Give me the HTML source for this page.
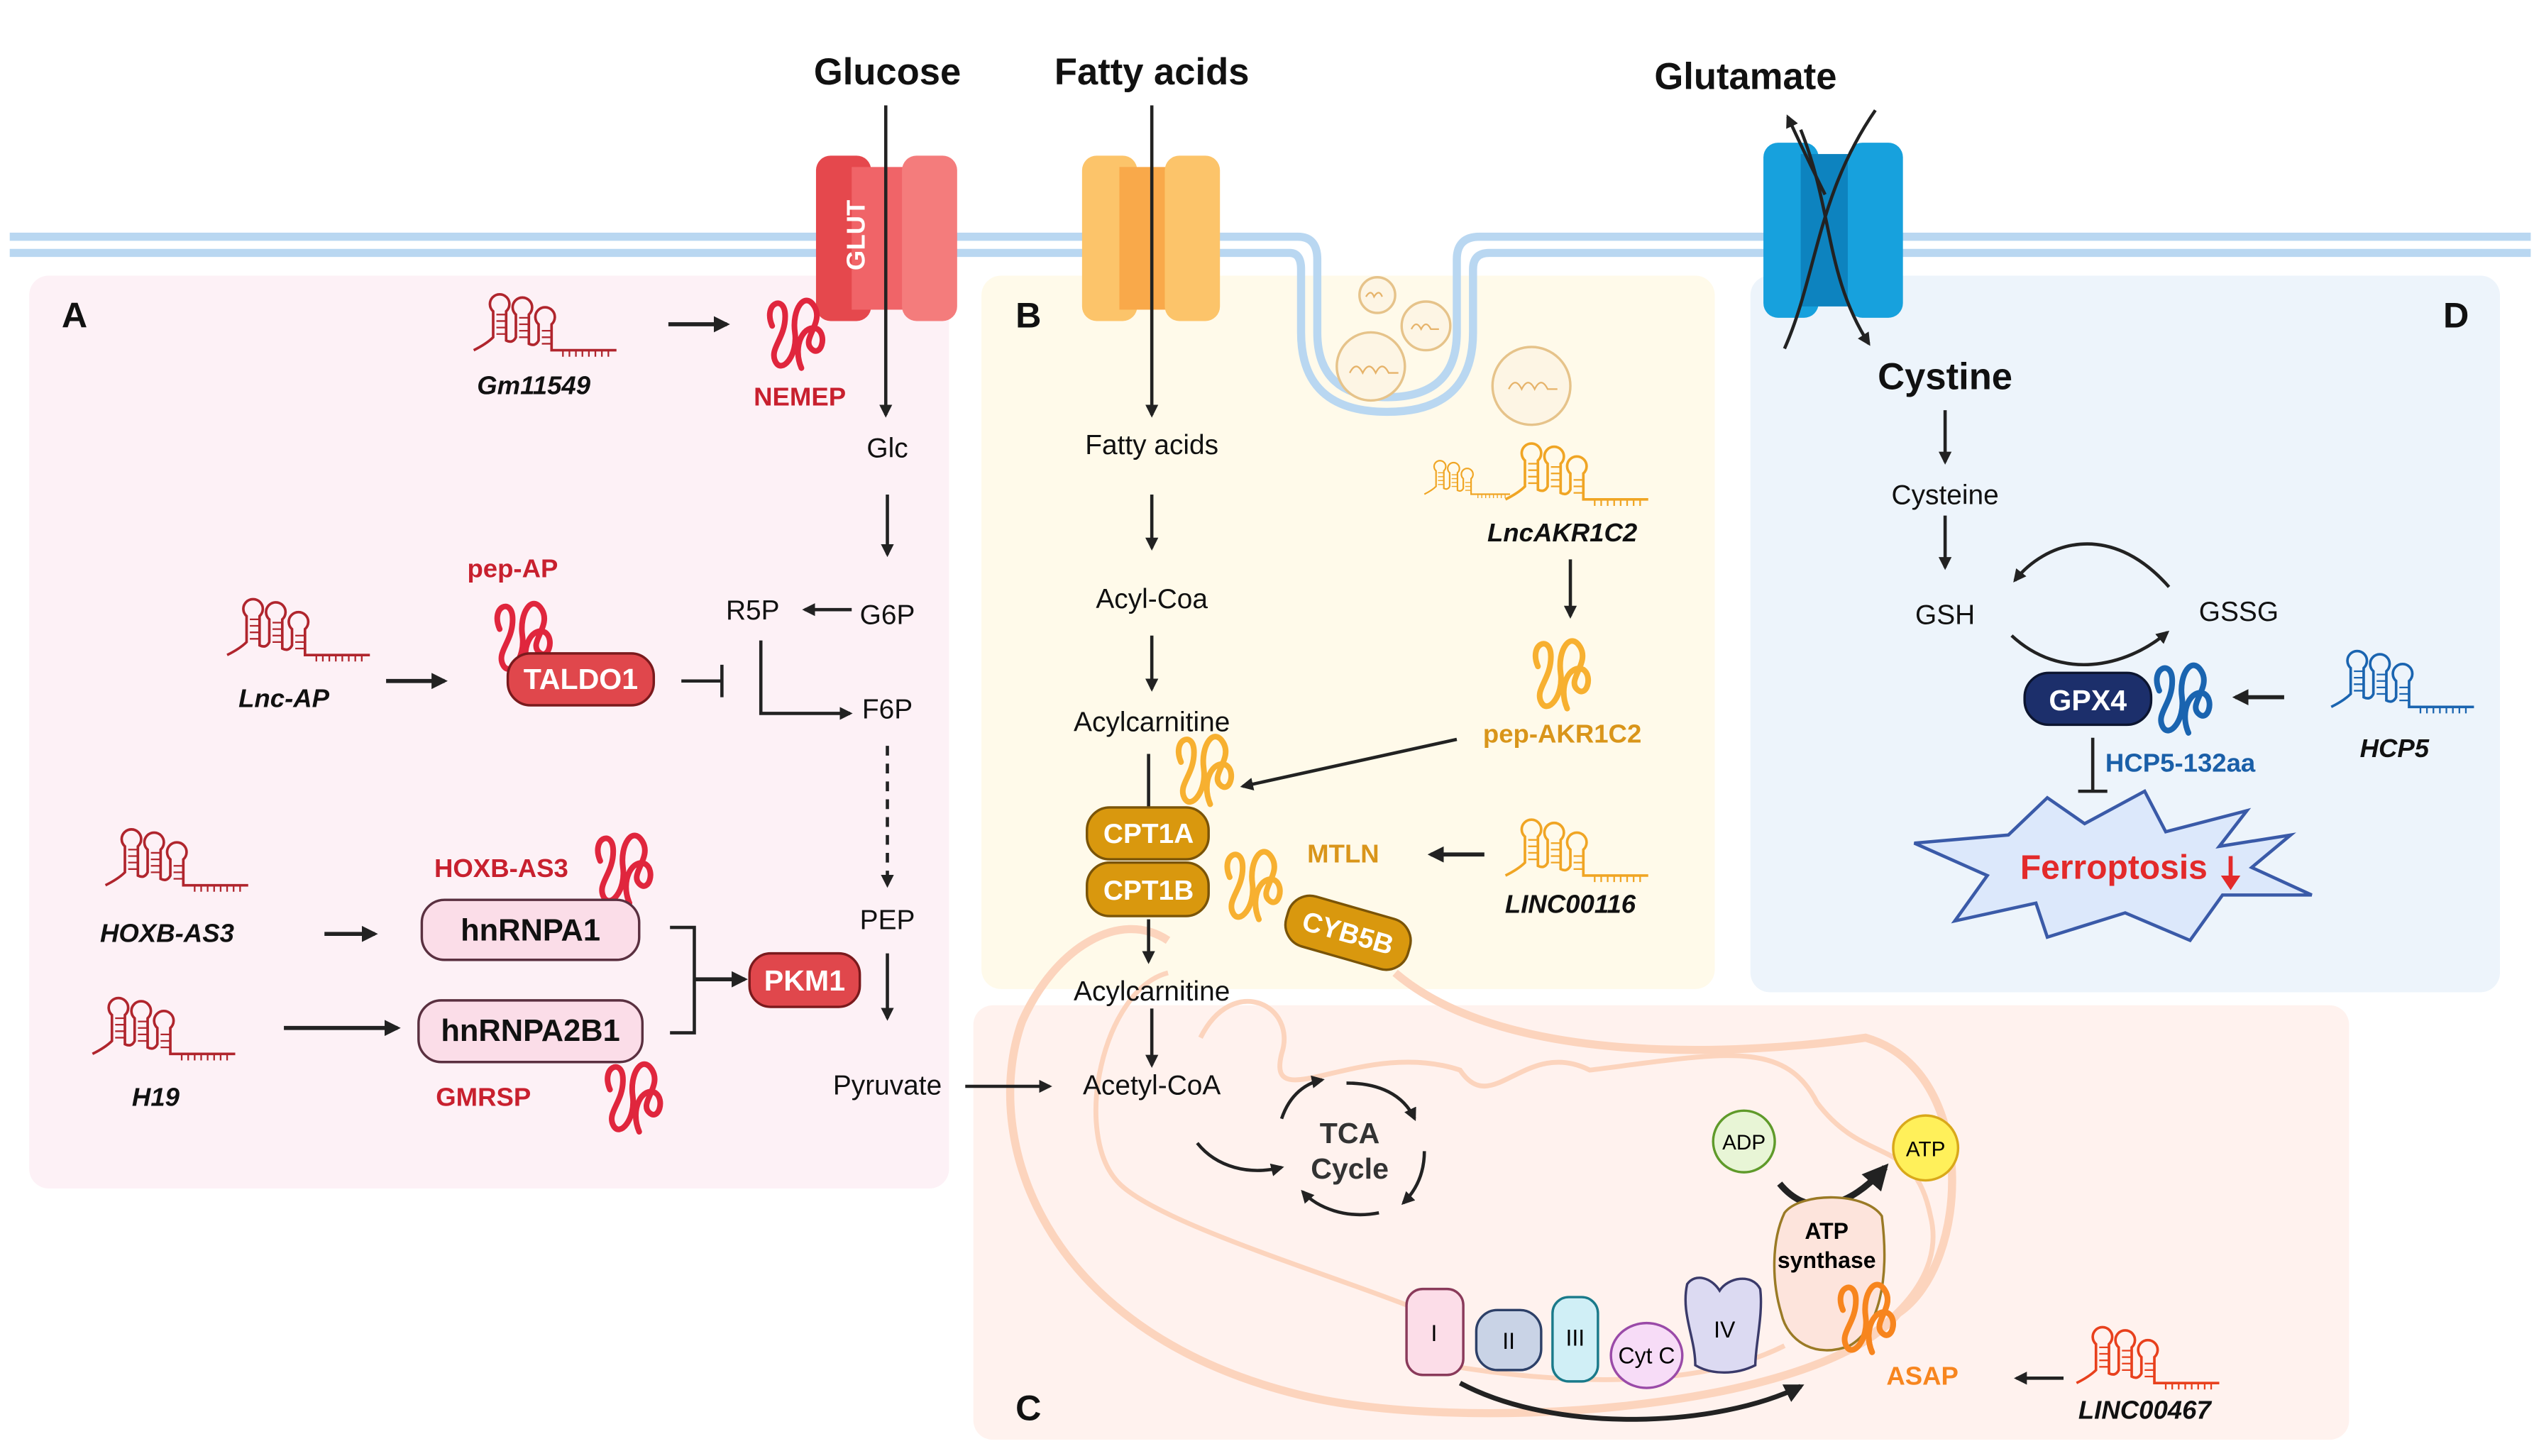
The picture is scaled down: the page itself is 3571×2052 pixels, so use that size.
<!DOCTYPE html>
<html><head><meta charset="utf-8"><style>html,body{margin:0;padding:0;background:#fff}svg{display:block}text{font-family:"Liberation Sans",sans-serif}</style></head>
<body>
<svg width="3571" height="2052" viewBox="0 0 1562 898" preserveAspectRatio="none" xmlns="http://www.w3.org/2000/svg">
<defs>
<marker id="ah" viewBox="0 0 10 10" refX="8" refY="5" markerWidth="4" markerHeight="4" orient="auto"><path d="M0,0 L10,5 L0,10 z" fill="#222"/></marker>
<g id="rna" fill="none" stroke="currentColor" stroke-width="1.6">
<path d="M0,38 Q8,34 12,30 L12,14 A6,6 0 1 1 20,14 L20,32 Q24,34 26,30 L26,16 A6,6 0 1 1 34,16 L34,34 Q38,36 40,32 L40,22 A6,6 0 1 1 48,22 L48,38 L88,38"/>
<path d="M14,16h6M14,20h6M14,24h6M14,28h6M28,18h6M28,22h6M28,26h6M28,30h6M42,26h6M42,30h6M42,34h6M55,38v4M59,38v4M63,38v4M67,38v4M71,38v4M75,38v4M79,38v4M83,38v4" stroke-width="1"/>
</g>
<g id="pep" fill="none" stroke="currentColor" stroke-width="3.5" stroke-linecap="round">
<path d="M-14,-4 C-20,-18 -6,-24 -6,-10 C-6,4 -16,10 -12,18 C-8,26 2,14 0,0 C-2,-14 6,-26 12,-16 C18,-6 4,4 10,10 C16,16 20,2 14,-2 C6,-6 -2,8 4,22"/>
</g>
</defs>
<rect width="1562" height="898" fill="#fff"/>
<rect x="18" y="170" width="567" height="563" rx="12" fill="#fdf1f6"/>
<rect x="605" y="170" width="452" height="440" rx="12" fill="#fffaea"/>
<rect x="600" y="620" width="848" height="268" rx="12" fill="#fff2ee"/>
<rect x="1079" y="170" width="462" height="442" rx="12" fill="#edf4fb"/>
<path d="M6,146 H800 Q812,146 812,160 V205 Q812,245 855,245 Q898,245 898,205 V160 Q898,146 912,146 H1560" fill="none" stroke="#b9d7f1" stroke-width="5"/>
<path d="M6,156 H795 Q802,156 802,166 V205 Q802,254 855,254 Q908,254 908,205 V166 Q908,156 918,156 H1560" fill="none" stroke="#b9d7f1" stroke-width="5"/>
<g fill="#fdf5e4" stroke="#e6c38a" stroke-width="1.5"><circle cx="849" cy="182" r="11"/><circle cx="879" cy="201" r="15"/><circle cx="845" cy="226" r="21"/><circle cx="944" cy="238" r="24"/></g>
<g fill="none" stroke="#e6b36a" stroke-width="1"><path d="M832,230 q4,-8 8,0 q4,-8 8,0 q4,-8 8,0 h6"/><path d="M930,240 q4,-8 8,0 q4,-8 8,0 q4,-8 8,0 h6"/><path d="M870,203 q3,-6 6,0 q3,-6 6,0 h5"/><path d="M842,183 q3,-5 5,0 q3,-5 5,0"/></g>
<path d="M860,600 C930,660 1080,650 1150,640 C1220,660 1215,780 1170,810 C1120,870 900,885 800,860 C640,820 605,700 630,630 C650,585 690,560 720,580" fill="none" stroke="#fcd4bd" stroke-width="5"/>
<path d="M720,600 C680,610 660,700 690,730 C720,760 870,800 900,820 M740,640 C760,600 800,620 790,650 C780,690 840,640 900,660 C920,690 940,640 980,660 C1060,650 1100,640 1120,680 C1150,720 1180,700 1190,750 C1200,790 1160,820 1140,830 M880,840 C990,860 1060,850 1100,830" fill="none" stroke="#fcd4bd" stroke-width="3"/>
<rect x="503" y="96" width="34" height="102" rx="9" fill="#e5484d"/><rect x="525" y="103" width="40" height="88" fill="#f06468"/><rect x="556" y="96" width="34" height="102" rx="9" fill="#f47c7c"/>
<text x="527" y="145" transform="rotate(-90 527 145)" text-anchor="middle" font-size="16" font-weight="bold" fill="#fff" dy="6">GLUT</text>
<rect x="667" y="96" width="34" height="102" rx="9" fill="#fcc46a"/><rect x="690" y="103" width="40" height="88" fill="#f9a94a"/><rect x="718" y="96" width="34" height="102" rx="9" fill="#fcc46a"/>
<rect x="1087" y="88" width="34" height="108" rx="9" fill="#17a1dd"/><rect x="1110" y="95" width="40" height="94" fill="#0d83bf"/><rect x="1139" y="88" width="34" height="108" rx="9" fill="#17a1dd"/>
<path d="M1156,68 C1120,120 1120,170 1100,215" fill="none" stroke="#222" stroke-width="2"/>
<path d="M1110,80 C1130,130 1125,170 1152,212" fill="none" stroke="#222" stroke-width="2" marker-end="url(#ah)"/>
<path d="M1125,120 C1115,100 1108,85 1102,72" fill="none" stroke="#222" stroke-width="2" marker-end="url(#ah)"/>
<g font-weight="bold" font-size="23" text-anchor="middle" fill="#111"><text x="547" y="52">Glucose</text><text x="710" y="52">Fatty acids</text><text x="1076" y="55">Glutamate</text><text x="1199" y="240">Cystine</text></g>
<g font-weight="bold" font-size="22" fill="#111"><text x="38" y="202">A</text><text x="626" y="202">B</text><text x="626" y="876">C</text><text x="1506" y="202">D</text></g>
<g stroke="#222" stroke-width="2" fill="none" marker-end="url(#ah)">
<line x1="546" y1="65" x2="546" y2="256"/><line x1="710" y1="65" x2="710" y2="256"/>
<line x1="412" y1="200" x2="448" y2="200" stroke-width="2.5"/>
<line x1="547" y1="305" x2="547" y2="342"/>
<line x1="525" y1="376" x2="496" y2="376"/>
<path d="M469,395 V440 H524"/>
<line x1="547" y1="460" x2="547" y2="546" stroke-dasharray="6,5"/>
<line x1="547" y1="588" x2="547" y2="628"/>
<line x1="595" y1="670" x2="647" y2="670"/>
<line x1="238" y1="420" x2="274" y2="420" stroke-width="2.5"/>
<line x1="200" y1="576" x2="231" y2="576" stroke-width="2.5"/>
<line x1="175" y1="634" x2="245" y2="634" stroke-width="2.5"/>
<line x1="428" y1="604" x2="459" y2="604" stroke-width="2.5"/>
<line x1="710" y1="305" x2="710" y2="338"/><line x1="710" y1="392" x2="710" y2="425"/>
<line x1="708" y1="567" x2="708" y2="593"/><line x1="710" y1="622" x2="710" y2="657"/>
<line x1="968" y1="345" x2="968" y2="380"/>
<line x1="898" y1="456" x2="766" y2="485"/>
<line x1="915" y1="527" x2="882" y2="527" stroke-width="2.5"/>
<line x1="1272" y1="850" x2="1243" y2="850"/>
<line x1="1199" y1="253" x2="1199" y2="285"/><line x1="1199" y1="318" x2="1199" y2="350"/>
<path d="M1337,362 C1300,320 1260,335 1242,358"/>
<path d="M1240,392 C1270,420 1310,412 1336,390"/>
<line x1="1408" y1="430" x2="1378" y2="430" stroke-width="2.5"/>
<path d="M738,705 C750,720 770,725 790,720"/>
<path d="M790,690 C795,675 805,668 815,666"/><path d="M830,668 C850,668 865,675 872,690"/>
<path d="M878,710 C878,725 872,735 865,742"/><path d="M850,748 C830,752 812,745 803,735"/>
<path d="M1097,730 C1115,752 1140,745 1162,720" stroke-width="4"/>
<path d="M900,853 C960,885 1060,880 1110,855" stroke-width="3"/>
</g>
<path d="M413,572 H428 V637 H413" fill="none" stroke="#222" stroke-width="2"/>
<line x1="708" y1="465" x2="708" y2="500" stroke="#222" stroke-width="2"/>
<g stroke="#222" stroke-width="2"><line x1="420" y1="420" x2="445" y2="420"/><line x1="445" y1="410" x2="445" y2="430"/><line x1="1290" y1="455" x2="1290" y2="488"/><line x1="1281" y1="488" x2="1299" y2="488"/></g>
<use href="#rna" x="292" y="178" color="#b0252d"/>
<use href="#rna" x="140" y="366" color="#b0252d"/>
<use href="#rna" x="65" y="508" color="#b0252d"/>
<use href="#rna" x="57" y="612" color="#b0252d"/>
<use href="#rna" x="928" y="270" color="#f0a524"/>
<g transform="translate(878,282) scale(0.6)"><use href="#rna" color="#f0a524"/></g>
<use href="#rna" x="928" y="502" color="#f0a524"/>
<use href="#rna" x="1437" y="398" color="#1a64b0"/>
<use href="#rna" x="1280" y="815" color="#e8401c"/>
<use href="#pep" x="490" y="205" color="#e0263d"/>
<use href="#pep" x="322" y="392" color="#e0263d"/>
<use href="#pep" x="384" y="535" color="#e0263d"/>
<use href="#pep" x="390" y="676" color="#e0263d"/>
<use href="#pep" x="962" y="415" color="#f7b030"/>
<use href="#pep" x="742" y="474" color="#f7b030"/>
<use href="#pep" x="772" y="545" color="#f7b030"/>
<use href="#pep" x="1345" y="430" color="#1a64b0"/>
<use href="#pep" x="1150" y="812" color="#f7851e"/>
<g font-size="17" text-anchor="middle" fill="#111">
<text x="547" y="282">Glc</text><text x="464" y="382">R5P</text><text x="547" y="385">G6P</text><text x="547" y="443">F6P</text><text x="547" y="573">PEP</text><text x="547" y="675">Pyruvate</text>
<text x="710" y="280">Fatty acids</text><text x="710" y="375">Acyl-Coa</text><text x="710" y="451">Acylcarnitine</text><text x="710" y="617">Acylcarnitine</text><text x="710" y="675">Acetyl-CoA</text>
<text x="1199" y="311">Cysteine</text><text x="1199" y="385">GSH</text><text x="1380" y="383">GSSG</text>
</g>
<g font-size="16" font-style="italic" font-weight="bold" text-anchor="middle" fill="#111">
<text x="329" y="243">Gm11549</text><text x="175" y="436">Lnc-AP</text><text x="103" y="581">HOXB-AS3</text><text x="96" y="682">H19</text>
<text x="963" y="334">LncAKR1C2</text><text x="968" y="563">LINC00116</text><text x="1476" y="467">HCP5</text><text x="1322" y="875">LINC00467</text>
</g>
<rect x="313" y="403" width="90" height="32" rx="14" fill="#e0474c" stroke="#7a1a1d" stroke-width="1.5"/><text x="358" y="425" text-anchor="middle" font-size="18" font-weight="bold" fill="#fff">TALDO1</text>
<rect x="260" y="555" width="134" height="37" rx="14" fill="#fbdde8" stroke="#5a3040" stroke-width="1.5"/><text x="327" y="580" text-anchor="middle" font-size="19" font-weight="bold" fill="#111">hnRNPA1</text>
<rect x="258" y="617" width="138" height="38" rx="14" fill="#fbdde8" stroke="#5a3040" stroke-width="1.5"/><text x="327" y="642" text-anchor="middle" font-size="19" font-weight="bold" fill="#111">hnRNPA2B1</text>
<rect x="462" y="588" width="68" height="33" rx="13" fill="#e0474c" stroke="#7a1a1d" stroke-width="1.5"/><text x="496" y="611" text-anchor="middle" font-size="18" font-weight="bold" fill="#fff">PKM1</text>
<rect x="670" y="498" width="75" height="32" rx="14" fill="#d9980e" stroke="#7a5408" stroke-width="1.5"/><text x="708" y="520" text-anchor="middle" font-size="17" font-weight="bold" fill="#fff">CPT1A</text>
<rect x="670" y="532" width="75" height="33" rx="14" fill="#d9980e" stroke="#7a5408" stroke-width="1.5"/><text x="708" y="555" text-anchor="middle" font-size="17" font-weight="bold" fill="#fff">CPT1B</text>
<g transform="rotate(16 830 575)"><rect x="792" y="559" width="78" height="32" rx="14" fill="#d9980e" stroke="#7a5408" stroke-width="1.5"/><text x="831" y="581" text-anchor="middle" font-size="17" font-weight="bold" fill="#fff">CYB5B</text></g>
<rect x="1248" y="415" width="78" height="32" rx="15" fill="#1c2f6b" stroke="#0c1530" stroke-width="1.5"/><text x="1287" y="438" text-anchor="middle" font-size="18" font-weight="bold" fill="#fff">GPX4</text>
<path d="M1180,520 L1238,515 L1262,492 L1285,508 L1322,488 L1335,513 L1385,500 L1368,522 L1412,515 L1388,535 L1425,552 L1370,552 L1350,580 L1310,563 L1262,578 L1255,557 L1205,568 L1225,540 z" fill="#dce8fb" stroke="#3a5aa8" stroke-width="2"/>
<text x="1303" y="542" text-anchor="middle" font-size="21" font-weight="bold" fill="#e32a2a">Ferroptosis</text>
<path d="M1375,528 V544" stroke="#e32a2a" stroke-width="2.5"/><path d="M1369,540 L1375,549 L1381,540 z" fill="#e32a2a"/>
<g font-size="16" font-weight="bold" text-anchor="middle">
<text x="493" y="250" fill="#c8202e">NEMEP</text><text x="316" y="356" fill="#c8202e">pep-AP</text><text x="309" y="541" fill="#c8202e">HOXB-AS3</text><text x="298" y="682" fill="#c8202e">GMRSP</text>
<text x="963" y="458" fill="#d9951a">pep-AKR1C2</text><text x="828" y="532" fill="#d9951a">MTLN</text>
<text x="1344" y="476" fill="#1a5fa8">HCP5-132aa</text><text x="1185" y="854" fill="#f7851e">ASAP</text>
</g>
<text x="832" y="705" text-anchor="middle" font-size="18" font-weight="bold" fill="#333">TCA</text><text x="832" y="727" text-anchor="middle" font-size="18" font-weight="bold" fill="#333">Cycle</text>
<circle cx="1075" cy="704" r="19" fill="#e8f5d6" stroke="#5f9a2a" stroke-width="1.5"/><text x="1075" y="709" text-anchor="middle" font-size="13">ADP</text>
<circle cx="1187" cy="708" r="20" fill="#fff05a" stroke="#d9a81a" stroke-width="1.5"/><text x="1187" y="713" text-anchor="middle" font-size="13">ATP</text>
<path d="M1100,748 C1110,735 1150,735 1160,750 C1165,790 1158,820 1140,830 C1120,838 1102,828 1098,810 C1092,790 1092,765 1100,748 z" fill="#fde4dc" stroke="#9a7a25" stroke-width="1.5"/>
<text x="1126" y="764" text-anchor="middle" font-size="14" font-weight="bold">ATP</text><text x="1126" y="782" text-anchor="middle" font-size="14" font-weight="bold">synthase</text>
<use href="#pep" x="1150" y="812" color="#f7851e"/>
<rect x="867" y="795" width="35" height="53" rx="10" fill="#fcdde8" stroke="#8a3a5a" stroke-width="1.5"/><text x="884" y="827" text-anchor="middle" font-size="14">I</text>
<rect x="910" y="808" width="40" height="37" rx="13" fill="#c9d3e6" stroke="#2d4068" stroke-width="1.5"/><text x="930" y="832" text-anchor="middle" font-size="14">II</text>
<rect x="957" y="800" width="28" height="52" rx="10" fill="#d0eff6" stroke="#1a7a8a" stroke-width="1.5"/><text x="971" y="830" text-anchor="middle" font-size="14">III</text>
<ellipse cx="1015" cy="836" rx="22" ry="20" fill="#f7dcf7" stroke="#9a4aa8" stroke-width="1.5"/><text x="1015" y="841" text-anchor="middle" font-size="14">Cyt C</text>
<path d="M1040,792 C1045,785 1055,788 1060,796 C1065,788 1080,785 1085,795 C1087,810 1082,830 1082,842 C1070,848 1055,848 1045,842 C1045,825 1036,810 1040,792 z" fill="#dcdaf2" stroke="#3a3a6a" stroke-width="1.5"/><text x="1063" y="825" text-anchor="middle" font-size="14">IV</text>
</svg>
</body></html>
